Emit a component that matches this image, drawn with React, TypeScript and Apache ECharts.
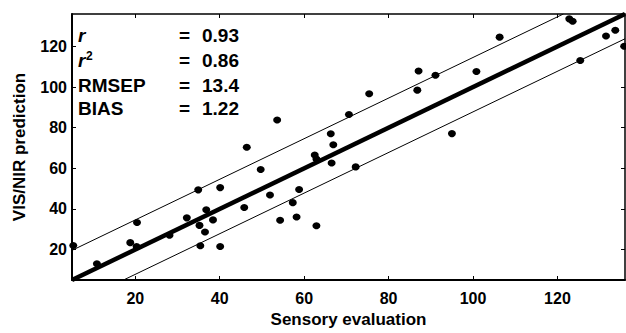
import React, { useEffect, useRef } from "react";
import * as echarts from "echarts";

const sensory = [5.3, 10.9, 18.8, 20.3, 20.4, 28.1, 32.2, 34.9, 35.2, 35.4, 36.5, 36.8, 38.4, 40.1, 40.1, 45.8, 46.4, 49.7, 51.9, 53.6, 54.3, 57.3, 58.2, 58.8, 62.5, 62.9, 62.9, 66.3, 66.5, 66.9, 70.6, 72.2, 75.4, 86.8, 87.1, 91.1, 95.0, 100.8, 106.3, 122.8, 123.6, 125.4, 131.5, 133.7, 135.8];
const predicted = [22.0, 13.0, 23.4, 21.5, 33.3, 27.0, 35.6, 49.4, 31.9, 21.9, 28.6, 39.6, 34.6, 50.5, 21.5, 40.7, 70.4, 59.4, 46.9, 83.8, 34.4, 43.1, 36.0, 49.6, 66.6, 64.6, 31.7, 77.0, 62.6, 71.6, 86.5, 60.7, 96.7, 98.5, 107.9, 105.8, 77.1, 107.7, 124.6, 133.6, 132.4, 113.1, 125.2, 128.0, 120.1];

const identityLine = [[5, 5], [136, 136]];
const upperLine = [[5, 19.6], [121.4, 136]];
const lowerLine = [[17.2, 5], [136, 123.8]];

const tickValues = [20, 40, 60, 80, 100, 120];
const axisMin = 5;
const axisMax = 136;

const statLabels = ["r", "r", "RMSEP", "BIAS"];
const statValues = ["0.93", "0.86", "13.4", "1.22"];

const FONT = '"Liberation Sans", Arial, sans-serif';

export default function App() {
  const ref = useRef<HTMLDivElement>(null);
  useEffect(() => {
    if (!ref.current) return;
    const chart = echarts.init(ref.current, null, { renderer: "svg" });
    const rowY = [37, 62, 87, 110];
    const graphics: any[] = [];
    statLabels.forEach((lab, i) => {
      graphics.push({
        type: "text",
        left: 78,
        top: rowY[i] - 11,
        style: {
          text: lab,
          font: `${i < 2 ? "italic " : ""}bold 19px ${FONT}`,
          fill: "#000",
        },
      });
      graphics.push({
        type: "text",
        left: 179,
        top: rowY[i] - 11,
        style: { text: "=", font: `bold 19px ${FONT}`, fill: "#000" },
      });
      graphics.push({
        type: "text",
        left: 202,
        top: rowY[i] - 11,
        style: { text: statValues[i], font: `bold 19px ${FONT}`, fill: "#000" },
      });
    });
    graphics.push({
      type: "text",
      left: 86,
      top: rowY[1] - 12,
      style: { text: "2", font: `bold 12px ${FONT}`, fill: "#000" },
    });

    const axisCommon = {
      type: "value",
      min: axisMin,
      max: axisMax,
      splitLine: { show: false },
      axisLine: { show: true, lineStyle: { color: "#000", width: 2 } },
      axisTick: {
        show: true,
        inside: true,
        length: 4,
        customValues: tickValues,
        lineStyle: { color: "#000", width: 1 },
      },
    };

    chart.setOption({
      animation: false,
      backgroundColor: "#fff",
      grid: { left: 72, right: 1, top: 14, bottom: 42, containLabel: false },
      xAxis: [
        {
          ...axisCommon,
          position: "bottom",
          name: "Sensory evaluation",
          nameLocation: "middle",
          nameGap: 31,
          nameTextStyle: { fontFamily: FONT, fontWeight: "bold", fontSize: 17, color: "#000" },
          axisLabel: {
            customValues: tickValues,
            margin: 10,
            fontFamily: FONT,
            fontWeight: "bold",
            fontSize: 16,
            color: "#000",
          },
        },
        {
          ...axisCommon,
          position: "top",
          axisLine: { show: true, lineStyle: { color: "#000", width: 1.5 } },
          axisLabel: { show: false },
        },
      ],
      yAxis: [
        {
          ...axisCommon,
          position: "left",
          name: "VIS/NIR prediction",
          nameLocation: "middle",
          nameGap: 44,
          nameTextStyle: { fontFamily: FONT, fontWeight: "bold", fontSize: 17, color: "#000" },
          axisLabel: {
            customValues: tickValues,
            margin: 5,
            fontFamily: FONT,
            fontWeight: "bold",
            fontSize: 16,
            color: "#000",
          },
        },
        {
          ...axisCommon,
          position: "right",
          axisLine: { show: true, lineStyle: { color: "#000", width: 1.5 } },
          axisLabel: { show: false },
        },
      ],
      series: [
        {
          type: "line",
          data: identityLine,
          symbol: "none",
          clip: true,
          lineStyle: { color: "#000", width: 4.5 },
          silent: true,
        },
        {
          type: "line",
          data: upperLine,
          symbol: "none",
          clip: true,
          lineStyle: { color: "#000", width: 1 },
          silent: true,
        },
        {
          type: "line",
          data: lowerLine,
          symbol: "none",
          clip: true,
          lineStyle: { color: "#000", width: 1 },
          silent: true,
        },
        {
          type: "scatter",
          data: sensory.map((x, i) => [x, predicted[i]]),
          symbol: "circle",
          symbolSize: [8, 7],
          clip: false,
          itemStyle: { color: "#000", opacity: 1 },
        },
      ],
      graphic: graphics,
    });
    return () => chart.dispose();
  }, []);
  return (
    <div
      ref={ref}
      style={{ position: "fixed", left: 0, top: 0, width: 626, height: 333, background: "#fff" }}
    />
  );
}
